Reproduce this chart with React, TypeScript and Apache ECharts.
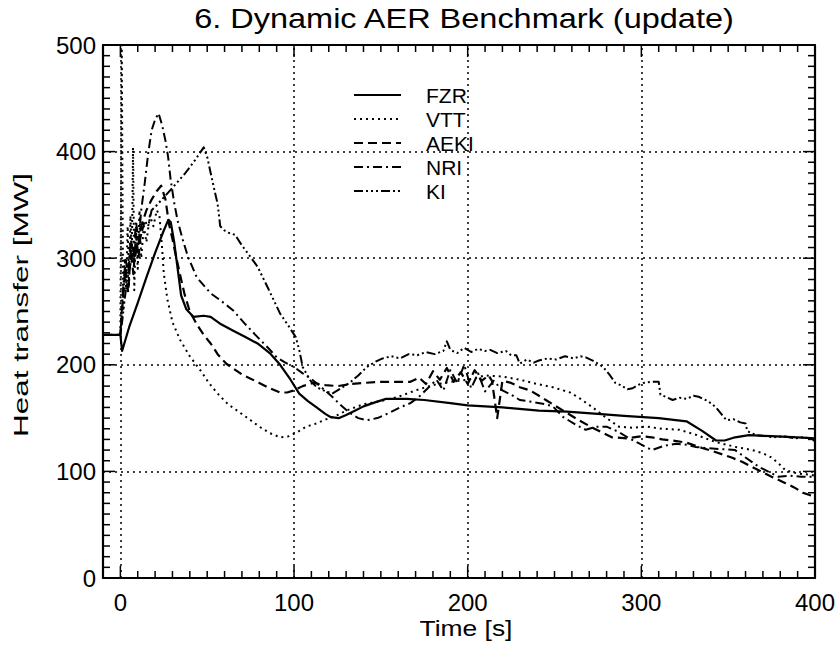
import React, { useEffect, useRef } from "react";
import * as echarts from "echarts";

const titleText = "6. Dynamic AER Benchmark (update)";
const xAxisName = "Time [s]";
const yAxisName = "Heat transfer [MW]";
const seriesNames = ["FZR", "VTT", "AEKI", "NRI", "KI"];
const xMajorTicks = [0, 100, 200, 300, 400];
const xGridValues = [0, 100, 200, 300];
const xMin = -10;
const xMax = 400;
const yMin = 0;
const yMax = 500;
const xTickValues = Array.from({ length: 41 }, (_, i) => i * 10);
const yTickValues = Array.from({ length: 51 }, (_, i) => i * 10);

const fzrData = [
  [-10, 228], [0, 228], [1, 213], [5, 235], [10, 258], [15, 282], [20, 305], [25, 326], [27.6, 336], [29, 334],
  [31, 315], [33, 290], [35, 265], [38, 252], [42, 245], [48, 246], [52, 245], [58, 238], [65, 232], [72, 226],
  [79, 220], [86, 211], [92, 200], [98, 186], [103, 173], [108, 166], [113, 160], [118, 154], [121, 151], [126, 150],
  [130, 153], [135, 157], [140, 161], [147, 165], [153, 168], [165, 168], [175, 167], [190, 164], [200, 162], [220, 160],
  [241, 157], [257, 156], [275, 154], [290, 152], [310, 150], [326, 147], [335, 138], [343, 129], [348, 129], [354, 132],
  [362, 134], [375, 133], [390, 132], [400, 131],
];

const vttData = [
  [-10, 228], [0, 228], [0.8, 500], [1.6, 250], [2.5, 300], [3.3, 270], [4.2, 330], [5, 275], [5.8, 340], [6.6, 300],
  [7.3, 404], [8, 270], [9, 330], [10, 290], [11, 345], [12, 300], [13.5, 330], [15, 315], [17, 340], [19, 330],
  [21, 345], [22.5, 340], [24, 310], [25, 286], [27, 262], [30, 240], [34.5, 223], [40, 208], [46, 195], [51, 183],
  [56, 173], [62, 163], [69, 155], [75, 148], [80, 142], [86, 136], [92, 132], [97, 133], [102, 137], [107, 142],
  [113, 145], [117, 148], [124, 152], [130, 157], [140, 163], [150, 166], [160, 170], [170, 176], [180, 181], [190, 184],
  [200, 186], [210, 190], [220, 189], [230, 186], [240, 182], [249, 179], [259, 174], [265, 168], [272, 160], [280, 150],
  [287, 142], [295, 141], [303, 142], [312, 140], [322, 139], [332, 134], [342, 128], [354, 123], [364, 120], [370, 117],
  [375, 113], [380, 106], [383, 101], [390, 98], [397, 97], [400, 96],
];

const aekiData = [
  [-10, 228], [0, 228], [1.5, 262], [3, 290], [4.5, 268], [6, 308], [7.5, 285], [9, 322], [10.5, 300], [12, 330],
  [15, 345], [18, 355], [21, 363], [23.5, 368], [26, 355], [28, 332], [30, 318], [32, 302], [35, 280], [37, 266],
  [40, 250], [44, 238], [48, 228], [52, 220], [56, 210], [61, 201], [70, 191], [80, 183], [86, 178], [92, 174],
  [96, 174], [100, 176], [105, 180], [111, 183], [118, 181], [125, 180], [133, 182], [140, 183], [150, 184], [160, 184],
  [167, 184], [172, 188], [176, 182], [180, 194], [184, 186], [188, 197], [192, 184], [196, 193], [200, 182], [204, 195],
  [208, 185], [212, 190], [214, 185], [217, 150], [220, 185], [225, 183], [230, 179], [236, 176], [245, 167], [255, 157],
  [264, 148], [273, 140], [283, 132], [292, 131], [300, 133], [306, 132], [312, 130], [318, 129], [326, 127], [335, 122],
  [343, 118], [352, 113], [358, 109], [364, 104], [370, 99], [375, 95], [383, 89], [388, 85], [393, 80], [400, 76],
];

const nriData = [
  [-10, 228], [0, 228], [1.5, 270], [3, 300], [4.5, 285], [6, 320], [7.5, 300], [9, 335], [10.5, 315], [12, 345],
  [14, 370], [16, 398], [18, 420], [20, 430], [22, 436], [24, 425], [26, 410], [27.5, 395], [29, 373], [31, 352],
  [33, 335], [36, 317], [39, 301], [44, 282], [52, 267], [58, 260], [65, 251], [72, 238], [79, 226], [85, 216],
  [90, 207], [95, 202], [100, 198], [105, 192], [109, 188], [115, 180], [122, 170], [127, 162], [132, 155], [137, 150],
  [142, 148], [148, 150], [155, 155], [161, 160], [167, 164], [172, 170], [177, 178], [182, 186], [186, 176], [190, 195],
  [194, 183], [198, 200], [202, 178], [206, 192], [210, 175], [215, 185], [220, 176], [225, 172], [230, 167], [238, 165],
  [245, 163], [249, 161], [255, 151], [262, 144], [268, 139], [274, 142], [280, 142], [287, 137], [293, 131], [299, 126],
  [306, 120], [313, 124], [320, 126], [326, 125], [331, 123], [337, 122], [345, 121], [354, 120], [360, 113], [368, 104],
  [374, 99], [379, 95], [385, 96], [392, 95], [400, 95],
];

const kiData = [
  [-10, 228], [0, 228], [1, 240], [2.5, 262], [4, 280], [5.5, 292], [7, 305], [8.5, 300], [10, 318], [12, 322],
  [14, 335], [16, 330], [18, 345], [20, 348], [25, 357], [30, 366], [37, 379], [43, 392], [48, 404], [50, 395],
  [52, 380], [54, 365], [56, 351], [57.5, 330], [60, 326], [62, 324], [66, 322], [70, 312], [75, 301], [79, 292],
  [85, 272], [92, 248], [97, 236], [101, 226], [103, 214], [105, 198], [109, 186], [113, 179], [117, 176], [122, 173],
  [127, 178], [132, 183], [137, 190], [142, 198], [147, 203], [151, 206], [156, 208], [161, 206], [166, 210], [171, 209],
  [176, 212], [181, 210], [186, 213], [188, 222], [190, 214], [194, 211], [198, 216], [202, 212], [206, 215], [210, 213],
  [213, 214], [217, 211], [222, 213], [225, 209], [228, 209], [230, 201], [234, 205], [238, 202], [241, 204], [246, 206],
  [251, 205], [256, 208], [261, 206], [265, 208], [268, 207], [272, 204], [278, 198], [282, 190], [285, 183], [288, 181],
  [292, 177], [295, 178], [298, 181], [301, 183], [306, 184], [310, 184], [311, 172], [314, 170], [318, 167], [322, 169],
  [326, 168], [330, 171], [333, 170], [337, 167], [340, 164], [343, 160], [346, 154], [349, 148], [353, 149], [357, 146],
  [360, 145], [361, 138], [363, 136], [367, 134], [372, 133], [376, 132], [382, 133], [388, 131], [393, 132], [398, 131],
  [400, 128],
];

const FONT = "'Liberation Sans', Arial, Helvetica, sans-serif";
const black = "#000";
const CHART_W = 840;
const CHART_H = 651;
const GRID = { left: 103, right: 25, top: 45, bottom: 73 };

function tickLine(x1: number, y1: number, x2: number, y2: number) {
  return { type: "line", silent: true, z: 100, shape: { x1, y1, x2, y2 }, style: { stroke: black, lineWidth: 1.5 } };
}

export default function App() {
  const ref = useRef<HTMLDivElement>(null);

  useEffect(() => {
    if (!ref.current) return;
    const chart = echarts.init(ref.current, undefined, { renderer: "svg" });

    const frameLine = { show: true, onZero: false, lineStyle: { color: black, width: 2.2 } };

    const lineDefs = [
      { name: seriesNames[0], data: fzrData, type: "solid" as any, width: 2.2 },
      { name: seriesNames[1], data: vttData, type: [2, 4], width: 2 },
      { name: seriesNames[2], data: aekiData, type: [9, 5], width: 2.2 },
      { name: seriesNames[3], data: nriData, type: [9, 4, 2, 4], width: 2 },
      { name: seriesNames[4], data: kiData, type: [9, 3, 2, 3, 2, 3, 2, 3], width: 2 },
    ];

    const lineSeries = lineDefs.map((d, i) => ({
      name: d.name,
      type: "line",
      data: d.data,
      symbol: "none",
      showSymbol: false,
      color: black,
      lineStyle: { color: black, width: d.width, type: d.type, cap: "butt", join: "round" },
      markLine:
        i === 0
          ? {
              silent: true,
              animation: false,
              symbol: ["none", "none"],
              label: { show: false },
              lineStyle: { color: black, width: 1.5, type: [2, 4] },
              data: xGridValues.map((v) => ({ xAxis: v })),
            }
          : undefined,
    }));

    const textGraphics = [
      {
        type: "text",
        x: 464,
        y: 18,
        scaleX: 1.16,
        style: { text: titleText, fontSize: 28, fontFamily: FONT, fill: black, textAlign: "center", textVerticalAlign: "middle" },
      },
      {
        type: "text",
        x: 466,
        y: 628,
        scaleX: 1.2,
        style: { text: xAxisName, fontSize: 22, fontFamily: FONT, fill: black, textAlign: "center", textVerticalAlign: "middle" },
      },
      {
        type: "text",
        x: 21,
        y: 305,
        rotation: Math.PI / 2,
        scaleX: 1.5,
        style: { text: yAxisName, fontSize: 21, fontFamily: FONT, fill: black, textAlign: "center", textVerticalAlign: "middle" },
      },
    ];

    chart.setOption({
      animation: false,
      backgroundColor: "#fff",
      textStyle: { fontFamily: FONT },
      graphic: textGraphics,
      grid: GRID,
      legend: {
        orient: "vertical",
        left: 348,
        top: 79,
        itemWidth: 47,
        itemHeight: 14,
        itemGap: 2,
        data: seriesNames,
        itemStyle: { opacity: 0 },
        textStyle: { fontSize: 21, lineHeight: 22, color: black, fontFamily: FONT, padding: [0, 0, 0, 20] },
      },
      xAxis: [
        {
          type: "value",
          min: xMin,
          max: xMax,
          position: "bottom",
          axisLine: frameLine,
          axisTick: { show: false },
          splitLine: { show: false },
          axisLabel: { customValues: xMajorTicks, fontSize: 24, color: black, margin: 12, fontFamily: FONT },
        },
        {
          type: "value",
          min: xMin,
          max: xMax,
          position: "top",
          axisLine: frameLine,
          axisTick: { show: false },
          splitLine: { show: false },
          axisLabel: { show: false },
        },
      ],
      yAxis: [
        {
          type: "value",
          min: yMin,
          max: yMax,
          interval: 100,
          position: "left",
          axisLine: frameLine,
          axisTick: { show: false },
          axisLabel: { fontSize: 24, color: black, margin: 7, fontFamily: FONT },
          splitLine: { show: true, lineStyle: { color: black, width: 1.5, type: [2, 4] } },
        },
        {
          type: "value",
          min: yMin,
          max: yMax,
          interval: 100,
          position: "right",
          axisLine: frameLine,
          axisTick: { show: false },
          axisLabel: { show: false },
          splitLine: { show: false },
        },
      ],
      series: lineSeries,
    });

    // Tick marks placed through the chart's own scales (convertToPixel)
    const finder = { xAxisIndex: 0, yAxisIndex: 0 };
    const tickGraphics: any[] = [];
    xTickValues.forEach((v) => {
      const len = v % 100 === 0 ? 12 : 7;
      const b = chart.convertToPixel(finder, [v, yMin]) as number[];
      const t = chart.convertToPixel(finder, [v, yMax]) as number[];
      if (b && t) {
        tickGraphics.push(tickLine(b[0], b[1], b[0], b[1] - len));
        tickGraphics.push(tickLine(t[0], t[1], t[0], t[1] + len));
      }
    });
    yTickValues.forEach((v) => {
      const len = v % 100 === 0 ? 12 : 7;
      const l = chart.convertToPixel(finder, [xMin, v]) as number[];
      const r = chart.convertToPixel(finder, [xMax, v]) as number[];
      if (l && r) {
        tickGraphics.push(tickLine(l[0], l[1], l[0] + len, l[1]));
        tickGraphics.push(tickLine(r[0], r[1], r[0] - len, r[1]));
      }
    });
    chart.setOption({ graphic: [...textGraphics, ...tickGraphics] });

    return () => chart.dispose();
  }, []);

  return <div ref={ref} style={{ position: "fixed", left: 0, top: 0, width: CHART_W, height: CHART_H }} />;
}
